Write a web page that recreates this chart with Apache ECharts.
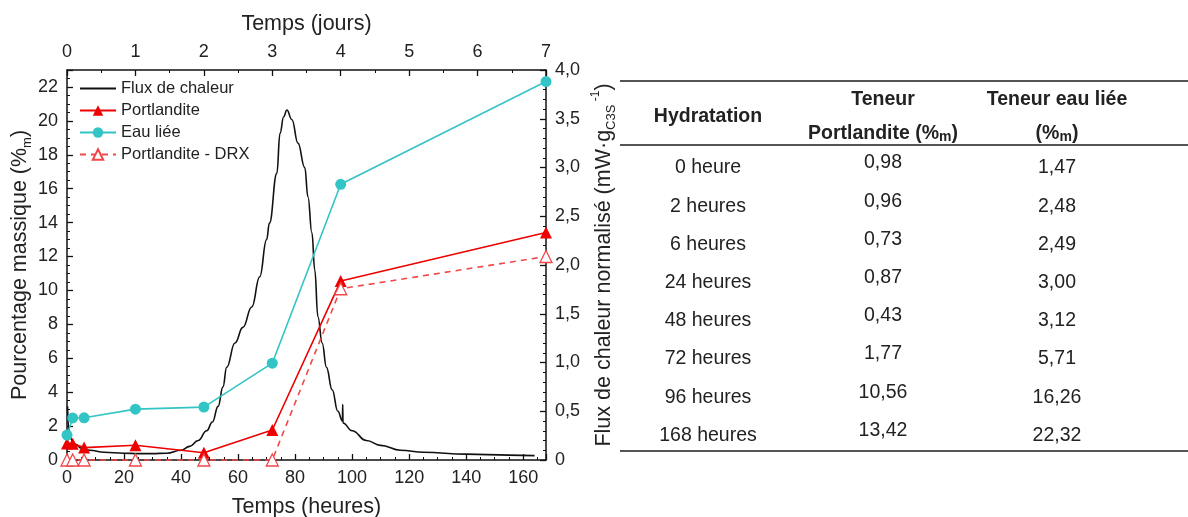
<!DOCTYPE html>
<html>
<head>
<meta charset="utf-8">
<script src="https://cdn.jsdelivr.net/npm/echarts@6/dist/echarts.min.js"></script>
<style>
  html, body { margin: 0; padding: 0; background: #fff; }
  #chart { width: 1188px; height: 517px; }
</style>
</head>
<body>
<div id="chart"></div>
<script>
// measured points (hours)
var hours = [0, 2, 6, 24, 48, 72, 96, 168];
var hourLabels = ['0 heure', '2 heures', '6 heures', '24 heures', '48 heures', '72 heures', '96 heures', '168 heures'];
var portlandite = [0.98, 0.96, 0.73, 0.87, 0.43, 1.77, 10.56, 13.42];
var eauLiee = [1.47, 2.48, 2.49, 3.00, 3.12, 5.71, 16.26, 22.32];
var portlanditeDrx = [0, 0, 0, 0, 0, 0, 10.1, 12.0];

// calorimetry curve
var heatHours = [0.2, 0.5, 1, 2, 3, 5, 8, 13, 20, 25, 30, 35, 40, 43, 46, 49, 51, 53, 54.7, 56, 58.9, 61.7, 64.8, 67.6,
  70, 71, 73.6, 74.7, 76, 77.1, 78.9, 81, 83.4, 84.5, 85.9, 86.9, 88, 89.5, 91, 93, 95, 96.6, 96.7, 96.8,
  100, 105, 110, 117, 125, 140, 155, 164];
var heatFlux = [0.55, 0.35, 0.24, 0.19, 0.16, 0.12, 0.1, 0.08, 0.07, 0.065, 0.065, 0.07, 0.1, 0.14, 0.2, 0.3, 0.39, 0.55, 0.75, 0.95, 1.2, 1.36, 1.57, 1.88,
  2.26, 2.43, 2.94, 3.35, 3.52, 3.59, 3.49, 3.25, 3.0, 2.7, 2.33, 1.95, 1.47, 1.2, 0.95, 0.72, 0.5, 0.4, 0.57, 0.38,
  0.3, 0.2, 0.15, 0.1, 0.08, 0.06, 0.05, 0.045];

var FONT = 'Liberation Sans, Arial, sans-serif';
var TXT = '#222';
var RED = '#ee0000', CYAN = '#33c4c6', PINK = '#f04848';

function pairs(xs, ys) {
  return xs.map(function (x, i) { return [x, ys[i]]; });
}
function comma(v, d) {
  return v.toFixed(d).replace('.', ',');
}

var subRich = {
  s: { fontSize: 13, lineHeight: 14, verticalAlign: 'bottom', fontFamily: FONT, color: TXT },
  p: { fontSize: 12, lineHeight: 12, verticalAlign: 'top', fontFamily: FONT, color: TXT }
};

var axisCommon = {
  axisLine: { show: true, onZero: false, lineStyle: { color: '#111', width: 1.5 } },
  axisTick: { show: true, inside: true, length: 6, lineStyle: { color: '#111', width: 1.3 } },
  minorTick: { show: true, length: 3, lineStyle: { color: '#111', width: 1 } },
  splitLine: { show: false },
  axisLabel: { fontSize: 18, color: TXT, fontFamily: FONT, margin: 9, showMaxLabel: false },
  nameTextStyle: { fontSize: 21.5, color: TXT, fontFamily: FONT, lineHeight: 28, rich: subRich },
  nameLocation: 'middle'
};

function ax(o) {
  var r = JSON.parse(JSON.stringify(axisCommon));
  for (var k in o) {
    if (typeof o[k] === 'object' && r[k]) {
      for (var j in o[k]) r[k][j] = o[k][j];
    } else r[k] = o[k];
  }
  return r;
}

// ---- table (right side) ----
var colX = [708, 883, 1057];
var rowY0 = 168, rowStep = 38.2;
var graphics = [];
function hline(y) {
  graphics.push({ type: 'line', shape: { x1: 620, y1: y, x2: 1188, y2: y },
    style: { stroke: '#555', lineWidth: 2 } });
}
function txt(x, y, text, bold) {
  graphics.push({ type: 'text', x: x, y: y,
    style: { text: text, fontSize: 19.5, fontWeight: bold ? 'bold' : 'normal', fontFamily: FONT, fill: TXT,
      align: 'center', verticalAlign: 'middle',
      rich: { s: { fontSize: 14, lineHeight: 14, verticalAlign: 'bottom', fontWeight: 'bold', fontFamily: FONT, fill: TXT } } } });
}
hline(81);
hline(145);
hline(451);
txt(colX[0], 117, 'Hydratation', true);
txt(colX[1], 100, 'Teneur', true);
txt(colX[1], 134, 'Portlandite (%{s|m})', true);
txt(colX[2], 100, 'Teneur eau liée', true);
txt(colX[2], 134, '(%{s|m})', true);
for (var i = 0; i < hours.length; i++) {
  var y = rowY0 + i * rowStep;
  txt(colX[0], y, hourLabels[i], false);
  txt(colX[1], y - 5, comma(portlandite[i], 2), false);
  txt(colX[2], y, comma(eauLiee[i], 2), false);
}

var chart = echarts.init(document.getElementById('chart'), null, { renderer: 'canvas' });
chart.setOption({
  animation: false,
  textStyle: { fontFamily: FONT },
  grid: { left: 67, top: 70, width: 479, height: 390, containLabel: false, outerBoundsMode: 'none' },
  legend: {
    orient: 'vertical', left: 74, top: 75, itemWidth: 36, itemHeight: 13, itemGap: 5,
    textStyle: { fontSize: 16.5, color: TXT, fontFamily: FONT },
    data: [
      { name: 'Flux de chaleur', itemStyle: { opacity: 0 } },
      { name: 'Portlandite' },
      { name: 'Eau liée' },
      { name: 'Portlandite - DRX' }
    ]
  },
  xAxis: [
    ax({ type: 'value', position: 'bottom', min: 0, max: 168, interval: 20,
      minorTick: { splitNumber: 4 }, name: 'Temps (heures)', nameGap: 33 }),
    ax({ type: 'value', position: 'top', min: 0, max: 7, interval: 1,
      minorTick: { splitNumber: 2 }, name: 'Temps (jours)', nameGap: 32,
      axisLabel: { showMaxLabel: true } })
  ],
  yAxis: [
    ax({ type: 'value', position: 'left', min: 0, max: 23, interval: 2,
      minorTick: { splitNumber: 4 }, name: 'Pourcentage massique (%{s|m})', nameGap: 26 }),
    ax({ type: 'value', position: 'right', min: 0, max: 4, interval: 0.5,
      minorTick: { splitNumber: 5 }, name: 'Flux de chaleur normalisé (mW·g{s|C3S}{p| -1})', nameGap: 44,
      axisLabel: { showMaxLabel: true, formatter: function (v) { return v === 0 ? '0' : comma(v, 1); } } })
  ],
  graphic: graphics,
  series: [
    {
      name: 'Flux de chaleur', type: 'line', xAxisIndex: 0, yAxisIndex: 1,
      data: pairs(heatHours, heatFlux), showSymbol: false, symbol: 'none',
      smooth: 0.45, smoothMonotone: 'x',
      lineStyle: { color: '#111', width: 1.6 }, itemStyle: { color: '#111' }
    },
    {
      name: 'Portlandite', type: 'line', xAxisIndex: 0, yAxisIndex: 0,
      data: pairs(hours, portlandite), symbol: 'triangle', symbolSize: 12,
      lineStyle: { color: RED, width: 1.6 }, itemStyle: { color: RED }
    },
    {
      name: 'Eau liée', type: 'line', xAxisIndex: 0, yAxisIndex: 0,
      data: pairs(hours, eauLiee), symbol: 'circle', symbolSize: 11,
      lineStyle: { color: CYAN, width: 1.6 }, itemStyle: { color: CYAN }
    },
    {
      name: 'Portlandite - DRX', type: 'line', xAxisIndex: 0, yAxisIndex: 0, clip: false,
      data: pairs(hours, portlanditeDrx), symbol: 'triangle', symbolSize: 12,
      lineStyle: { color: PINK, width: 1.6, type: [6, 5] },
      itemStyle: { color: '#fff', borderColor: PINK, borderWidth: 1.3 }
    }
  ]
});
</script>
</body>
</html>
